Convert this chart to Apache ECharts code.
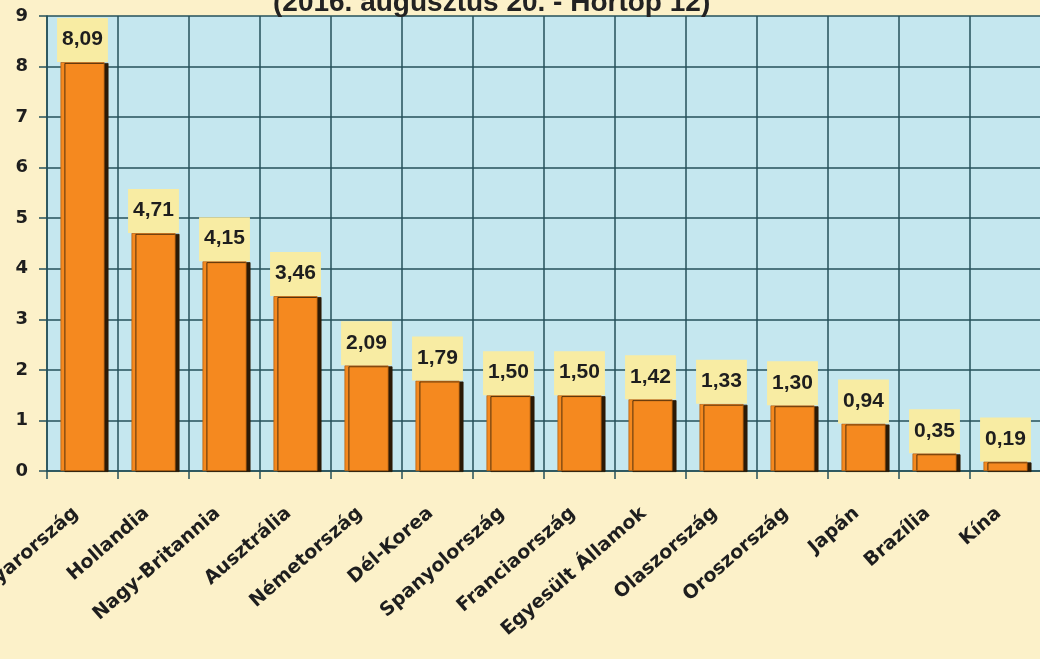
<!DOCTYPE html>
<html>
<head>
<meta charset="utf-8">
<script src="https://cdn.jsdelivr.net/npm/echarts@6/dist/echarts.min.js"></script>
<style>html,body{margin:0;padding:0;background:#fcf1c9;}#c{width:1040px;height:659px;}</style>
</head>
<body>
<div id="c"></div>
<script>
const titleText = '(2016. augusztus 20. - Hortop 12)';
const categories = ['Magyarország','Hollandia','Nagy-Britannia','Ausztrália','Németország','Dél-Korea','Spanyolország','Franciaország','Egyesült Államok','Olaszország','Oroszország','Japán','Brazília','Kína'];
const values = [8.09,4.71,4.15,3.46,2.09,1.79,1.50,1.50,1.42,1.33,1.30,0.94,0.35,0.19];
const yTicks = [0,1,2,3,4,5,6,7,8,9];

const chart = echarts.init(document.getElementById('c'));
chart.setOption({
  backgroundColor: '#fcf1c9',
  animation: false,
  title: {
    text: titleText,
    left: 268, top: -16,
    textStyle: {fontFamily: 'Liberation Sans', fontWeight: 'bold', fontSize: 28, color: '#222'}
  },
  grid: {left: 47, right: -1, top: 16, bottom: 188, show: true, backgroundColor: '#c5e7ef', borderWidth: 0, containLabel: false, outerBoundsMode: 'none'},
  xAxis: {
    type: 'category', data: categories,
    axisLine: {show: true, lineStyle: {color: '#24505a', width: 1.5}},
    axisTick: {show: true, length: 8, lineStyle: {color: '#24505a', width: 1.5}},
    splitLine: {show: true, lineStyle: {color: '#24505a', width: 1.5}},
    axisLabel: {rotate: 41, interval: 0, margin: 34, padding: [0, 9, 0, 0], fontFamily: 'DejaVu Sans', fontWeight: 'bold', fontSize: 19, color: '#1e1e1e'}
  },
  yAxis: {
    type: 'value', min: yTicks[0], max: yTicks[yTicks.length-1], interval: 1,
    axisLine: {show: true, lineStyle: {color: '#24505a', width: 1.5}},
    axisTick: {show: true, length: 8, lineStyle: {color: '#24505a', width: 1.5}},
    splitLine: {show: true, lineStyle: {color: '#24505a', width: 1.5}},
    axisLabel: {margin: 19, fontFamily: 'DejaVu Sans', fontWeight: 'bold', fontSize: 18, color: '#1e1e1e'}
  },
  series: [{
    type: 'bar', data: values, barWidth: 44,
    itemStyle: {color: '#f5891f', borderColor: '#b8620f', borderWidth: 0.8, shadowColor: '#2b1a06', shadowBlur: 0, shadowOffsetX: 4, shadowOffsetY: 1},
    label: {
      show: true, position: 'top', distance: 0,
      formatter: p => p.value.toFixed(2).replace('.', ','),
      backgroundColor: '#f8eca3', padding: [11, 5, 12, 5],
      fontFamily: 'Liberation Sans', fontWeight: 'bold', fontSize: 21, color: '#1e1e1e'
    }
  }]
});
</script>
</body>
</html>
